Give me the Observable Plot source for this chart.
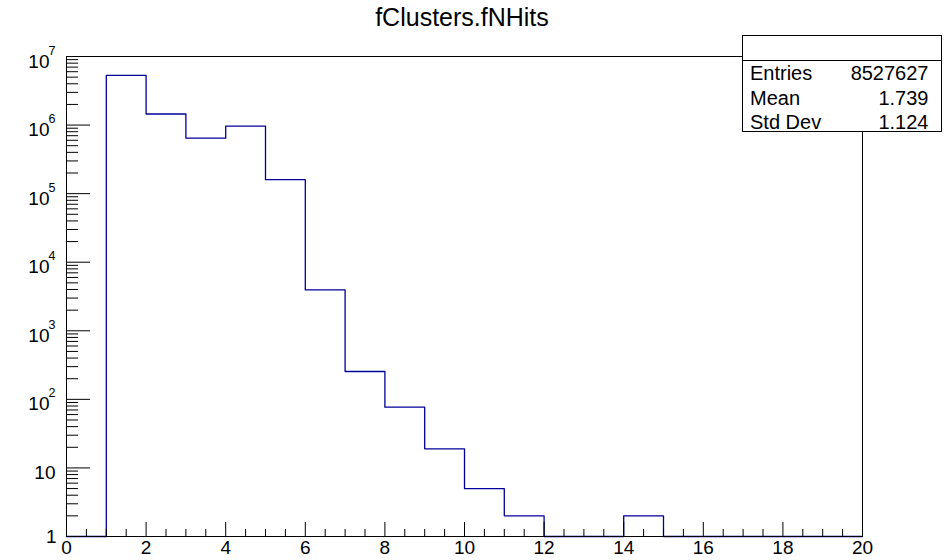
<!DOCTYPE html>
<html><head><meta charset="utf-8">
<script src="https://cdn.jsdelivr.net/npm/d3@7"></script>
<script src="https://cdn.jsdelivr.net/npm/@observablehq/plot@0.6"></script>
<style>
body{margin:0;background:#fff;}
#wrap{position:relative;width:952px;height:560px;font-family:"Liberation Sans",Arial,Helvetica,sans-serif;}
#wrap svg{display:block}
#overlay{position:absolute;left:0;top:0;pointer-events:none;}
</style></head><body><div id="wrap"></div>
<script>
// ---- data ----
const chartTitle = "fClusters.fNHits";
const binLow = [0,1,2,3,4,5,6,7,8,9,10,11,12,13,14,15,16,17,18,19];
const counts = [0,5.3e6,1.45e6,6.45e5,9.65e5,1.6e5,3950,255,77,19,5,2,0,0,2,0,0,0,0,0];
const xRange = [0, 20];
const yRange = [1, 1e7];
const xMajorTicks = [0,2,4,6,8,10,12,14,16,18,20];
const yExponents = [0,1,2,3,4,5,6,7];
const statsLabels = ["Entries","Mean","Std Dev"];
const statsValues = ["8527627","1.739","1.124"];

// ---- derived tables ----
const stepData = binLow.map((x, i) => ({x, y: Math.max(counts[i], 1)}));
stepData.push({x: xRange[1], y: Math.max(counts[counts.length - 1], 1)});
const xMinorTicks = d3.range(xRange[0], xRange[1] + 0.001, 0.5).filter(v => v % 2 !== 0);
const yMajorTicks = yExponents.map(e => 10 ** e);
const yMinorTicks = [];
for (let k = 0; k < 7; k++) for (let m = 2; m <= 9; m++) yMinorTicks.push(m * 10 ** k);

const font = "Liberation Sans, Arial, Helvetica, sans-serif";
const blank = () => "";

const chart = Plot.plot({
  width: 952, height: 560,
  marginLeft: 66, marginRight: 90, marginTop: 56, marginBottom: 24,
  style: {fontFamily: font, background: "white", color: "black", overflow: "visible"},
  x: {domain: xRange},
  y: {type: "log", domain: yRange},
  marks: [
    Plot.line(stepData, {x: "x", y: "y", curve: "step-after", stroke: "#000099", strokeWidth: 1.3}),
    Plot.frame({stroke: "black", strokeWidth: 1}),
    Plot.axisX({anchor: "bottom", ticks: xMajorTicks, tickSize: -14, tickFormat: blank, label: null}),
    Plot.axisX({anchor: "bottom", ticks: xMinorTicks, tickSize: -7, tickFormat: blank, label: null}),
    Plot.axisY({anchor: "left", ticks: yMajorTicks, tickSize: -24, tickFormat: blank, label: null}),
    Plot.axisY({anchor: "left", ticks: yMinorTicks, tickSize: -12, tickFormat: blank, label: null}),
    Plot.text(xMajorTicks, {x: d => d, frameAnchor: "bottom", dy: 11.5, lineAnchor: "middle",
      textAnchor: "middle", text: d => String(d), fontSize: 19, fontFamily: font, fill: "black"}),
    Plot.text(yExponents.filter(e => e >= 2), {y: e => 10 ** e, frameAnchor: "left", dx: -17, dy: 5,
      lineAnchor: "middle", textAnchor: "end", text: () => "10", fontSize: 19, fontFamily: font, fill: "black"}),
    Plot.text(yExponents.filter(e => e >= 2), {y: e => 10 ** e, frameAnchor: "left", dx: -11, dy: -6,
      lineAnchor: "middle", textAnchor: "end", text: e => String(e), fontSize: 12.5, fontFamily: font, fill: "black"}),
    Plot.text(yExponents.filter(e => e === 1), {y: e => 10 ** e, frameAnchor: "left", dx: -11, dy: 4.5,
      lineAnchor: "middle", textAnchor: "end", text: () => "10", fontSize: 19, fontFamily: font, fill: "black"}),
    Plot.text(yExponents.filter(e => e === 0), {y: e => 10 ** e, frameAnchor: "left", dx: -10, dy: 0,
      lineAnchor: "middle", textAnchor: "end", text: () => "1", fontSize: 19, fontFamily: font, fill: "black"})
  ]
});
const wrap = document.getElementById("wrap");
wrap.appendChild(chart);

// ---- overlay: title and statistics box ----
const ov = d3.select(wrap).append("svg").attr("id", "overlay")
  .attr("width", 952).attr("height", 560).attr("font-family", font);
ov.append("text").attr("x", 462).attr("y", 26).attr("text-anchor", "middle")
  .attr("font-size", 25).text(chartTitle);
const bx = 742.5, by = 35.5, bw = 199, bh = 96;
ov.append("rect").attr("x", bx).attr("y", by).attr("width", bw).attr("height", bh)
  .attr("fill", "white").attr("stroke", "black");
ov.append("line").attr("x1", bx).attr("x2", bx + bw).attr("y1", 60.5).attr("y2", 60.5).attr("stroke", "black");
const baselines = [80, 104.5, 128.5];
statsLabels.forEach((t, i) => {
  ov.append("text").attr("x", 750).attr("y", baselines[i]).attr("font-size", 20).text(t);
  ov.append("text").attr("x", 928.5).attr("y", baselines[i]).attr("font-size", 20)
    .attr("text-anchor", "end").text(statsValues[i]);
});
</script></body></html>
